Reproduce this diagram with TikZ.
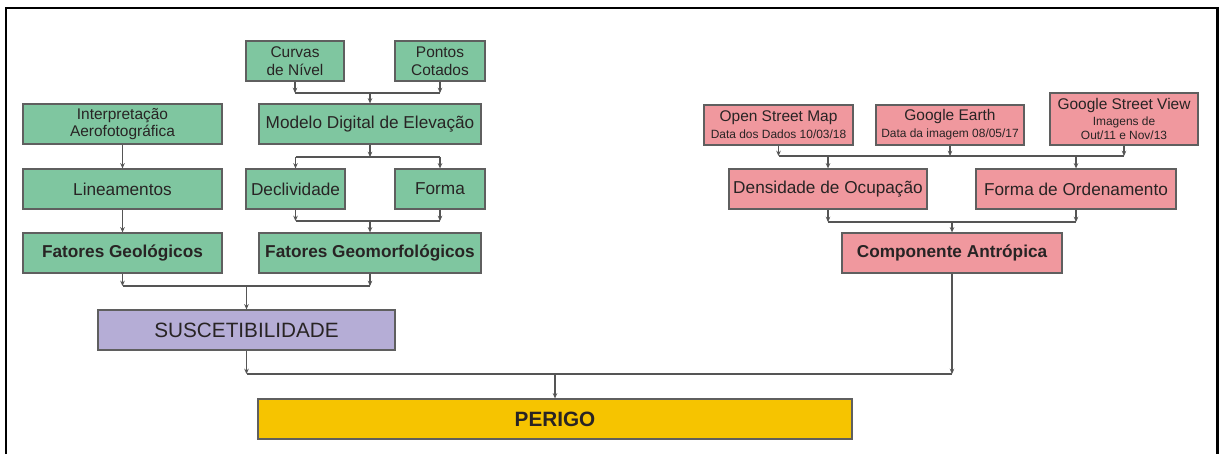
\documentclass[tikz,border=0pt]{standalone}
\usepackage{fontspec}
\setmainfont{Liberation Sans}
\usetikzlibrary{arrows.meta,positioning,calc}

\definecolor{verde}{RGB}{127,198,160}
\definecolor{rosa}{RGB}{240,152,158}
\definecolor{lilas}{RGB}{181,173,214}
\definecolor{amarelo}{RGB}{246,196,0}
\definecolor{borda}{RGB}{95,95,95}
\definecolor{cinza}{RGB}{85,85,85}
\definecolor{texto}{RGB}{40,36,36}

\newcommand{\tamgrande}{\fontsize{11.8}{13.5}\selectfont}
\newcommand{\tamnormal}{\fontsize{9.8}{11.5}\selectfont}
\newcommand{\tammedio}{\fontsize{8.8}{10}\selectfont}
\newcommand{\tampequeno}{\fontsize{6.8}{8}\selectfont}

\begin{document}
\begin{tikzpicture}[x=0.02cm,y=-0.02cm,
  bloco/.style={rectangle,draw=borda,line width=0.7pt,text=texto,align=center,inner sep=1pt,minimum height=0.8cm,font=\tamnormal},
  liga/.style={draw=cinza,line width=0.6pt},
  seta/.style={liga,-{Stealth[length=3pt,width=2.6pt]}}]
\useasboundingbox (0,0) rectangle (1219,454);

% page frame (no bottom edge)
\draw[line width=1.7pt] (6,454) -- (6,8) -- (1217,8) -- (1217,454);

% geomorphology column
\node[bloco,fill=verde,minimum width=1.96cm,font=\tammedio] (curvas) at (295,61) {Curvas\\de Nível};
\node[bloco,fill=verde,minimum width=1.80cm,font=\tammedio] (pontos) at (440,61) {Pontos\\Cotados};
\node[bloco,fill=verde,minimum width=4.44cm] (mde) at (370,124) {Modelo Digital de Elevação};
\node[bloco,fill=verde,minimum width=1.98cm] (decliv) at (295.5,189) {Declividade};
\node[bloco,fill=verde,minimum width=1.80cm] (forma) at (440,189) {Forma};
\node[bloco,fill=verde,minimum width=4.44cm] (fgeom) at (370,253) {\bfseries Fatores Geomorfológicos};

% geology column
\node[bloco,fill=verde,minimum width=3.98cm,font=\tammedio] (interp) at (122.5,124) {Interpretação\\Aerofotográfica};
\node[bloco,fill=verde,minimum width=3.98cm] (lineam) at (122.5,189) {Lineamentos};
\node[bloco,fill=verde,minimum width=3.98cm] (fgeol) at (122.5,253) {\bfseries Fatores Geológicos};

% susceptibility and hazard
\node[bloco,fill=lilas,minimum width=5.94cm,font=\tamgrande] (susc) at (246.5,330) {SUSCETIBILIDADE};
\node[bloco,fill=amarelo,minimum width=11.88cm,font=\tamgrande] (perigo) at (555,419) {\bfseries PERIGO};

% anthropic sources
\node[bloco,fill=rosa,minimum width=2.98cm,font=\tampequeno] (osm) at (778.5,125) {{\tammedio Open Street Map}\\[1.6pt]Data dos Dados 10/03/18};
\node[bloco,fill=rosa,minimum width=2.96cm,font=\tampequeno] (gearth) at (950,125) {{\tammedio Google Earth}\\[1.6pt]Data da imagem 08/05/17};
\node[bloco,fill=rosa,minimum width=2.96cm,minimum height=1.04cm,font=\tampequeno] (gsv) at (1124,119) {{\tammedio Google Street View}\\[1pt]Imagens de\\Out/11 e Nov/13};
\node[bloco,fill=rosa,minimum width=3.96cm] (dens) at (828,189) {Densidade de Ocupação};
\node[bloco,fill=rosa,minimum width=4.00cm] (ordem) at (1076,189) {Forma de Ordenamento};
\node[bloco,fill=rosa,minimum width=4.40cm] (antrop) at (952,253) {\bfseries Componente Antrópica};

% junction points
\coordinate (j1) at (370,93);
\coordinate (j2) at (370,157);
\coordinate (j3) at (370,221);
\coordinate (j4) at (246.5,286);
\coordinate (j5) at (950,156);
\coordinate (j6) at (952,222);
\coordinate (j7) at (555,374);

% curvas + pontos -> MDE
\draw[seta] (curvas) -- (curvas |- j1);
\draw[seta] (pontos) -- (pontos |- j1);
\draw[liga] (curvas |- j1) -- (pontos |- j1);
\draw[seta] (j1) -- (mde);

% MDE -> declividade, forma
\draw[seta] (mde) -- (j2);
\draw[liga] (decliv |- j2) -- (forma |- j2);
\draw[seta] (decliv |- j2) -- (decliv);
\draw[seta] (forma |- j2) -- (forma);

% declividade + forma -> fatores geomorfologicos
\draw[seta] (decliv) -- (decliv |- j3);
\draw[seta] (forma) -- (forma |- j3);
\draw[liga] (decliv |- j3) -- (forma |- j3);
\draw[seta] (j3) -- (fgeom);

% geology chain
\draw[seta] (interp) -- (lineam);
\draw[seta] (lineam) -- (fgeol);

% fatores -> suscetibilidade
\draw[seta] (fgeol) -- (fgeol |- j4);
\draw[seta] (fgeom) -- (fgeom |- j4);
\draw[liga] (fgeol |- j4) -- (fgeom |- j4);
\draw[seta] (j4) -- (susc);

% sources -> densidade, ordenamento
\draw[seta] (osm) -- (osm |- j5);
\draw[seta] (gearth) -- (j5);
\draw[seta] (gsv) -- (gsv |- j5);
\draw[liga] (osm |- j5) -- (gsv |- j5);
\draw[seta] (dens |- j5) -- (dens);
\draw[seta] (ordem |- j5) -- (ordem);

% densidade + ordenamento -> componente antropica
\draw[seta] (dens) -- (dens |- j6);
\draw[seta] (ordem) -- (ordem |- j6);
\draw[liga] (dens |- j6) -- (ordem |- j6);
\draw[seta] (j6) -- (antrop);

% suscetibilidade + componente -> perigo
\draw[seta] (susc) -- (susc |- j7);
\draw[seta] (antrop) -- (antrop |- j7);
\draw[liga] (susc |- j7) -- (antrop |- j7);
\draw[seta] (j7) -- (perigo);
\end{tikzpicture}
\end{document}
